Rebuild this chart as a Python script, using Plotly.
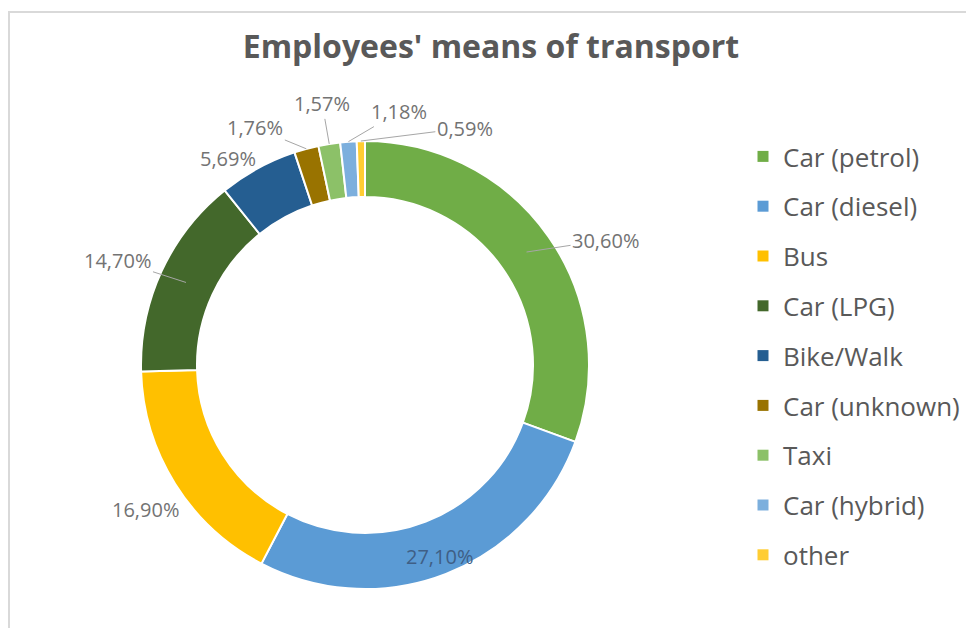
import math
import plotly.graph_objects as go

categories = ["Car (petrol)", "Car (diesel)", "Bus", "Car (LPG)", "Bike/Walk",
              "Car (unknown)", "Taxi", "Car (hybrid)", "other"]
shares = [30.60, 27.10, 16.90, 14.70, 5.69, 1.76, 1.57, 1.18, 0.59]
colors = ["#70AD47", "#5B9BD5", "#FFC000", "#43682B", "#255E91",
          "#997300", "#8CC168", "#7CAFDD", "#FFCD33"]

# label placement style: anchor radius (fraction of outer radius), text offset (px), leader line
label_r = [0.88, 0.915, 1.0, 0.88, 1.0, 1.0, 1.0, 1.0, 1.0]
label_dx = [79, 0, -30, -68, -30, -51, -7, 51, 104]
label_dy = [-12, 0, 26, -22, -10, -21, -40, -30, -13]
label_line = [True, False, False, True, False, True, True, True, True]

W, H = 974, 628
OFF = 8                      # page body margin of the html output (px)
cx, cy, R = 365, 365, 224    # donut centre / radius in screen px


def px_x(x):
    return (x - OFF) / W


def px_y(y):
    return 1 - (y - OFF) / H


fig = go.Figure()
fig.add_trace(go.Pie(
    labels=categories, values=shares, sort=False, direction="clockwise", rotation=0,
    hole=0.75,
    marker=dict(colors=colors, line=dict(color="white", width=2)),
    textinfo="none",
    showlegend=False,
    domain=dict(x=[px_x(cx - R), px_x(cx + R)], y=[px_y(cy + R), px_y(cy - R)]),
))

for name, col in zip(categories, colors):
    fig.add_trace(go.Scatter(
        x=[None], y=[None], mode="markers", name=name, legendgroup=name,
        marker=dict(symbol="square", size=11, color=col),
        showlegend=True,
    ))

total = sum(shares)
annotations = []
cum = 0.0
for i, v in enumerate(shares):
    mid = (cum + v / 2) / total * 2 * math.pi
    cum += v
    r = R * label_r[i]
    tx = cx + r * math.sin(mid)
    ty = cy - r * math.cos(mid)
    text = f"{v:.2f}%".replace(".", ",")
    if label_line[i]:
        annotations.append(dict(
            x=px_x(tx), y=px_y(ty), xref="paper", yref="paper",
            text=text, showarrow=True, arrowhead=0, arrowwidth=1,
            arrowcolor="#a6a6a6", ax=label_dx[i], ay=label_dy[i], standoff=0,
            xanchor="center", yanchor="middle",
            font=dict(family="Open Sans", size=20, color="#737373"),
        ))
    else:
        color = "#3f5f86" if label_r[i] < 1 else "#737373"
        annotations.append(dict(
            x=px_x(tx + label_dx[i]), y=px_y(ty + label_dy[i]),
            xref="paper", yref="paper", text=text, showarrow=False,
            xanchor="center", yanchor="middle",
            font=dict(family="Open Sans", size=20, color=color),
        ))

fig.update_layout(
    width=W, height=H,
    margin=dict(l=0, r=0, t=0, b=0),
    paper_bgcolor="white", plot_bgcolor="white",
    title=dict(text="<b>Employees' means of transport</b>", x=px_x(491), xanchor="center",
               y=px_y(47), yanchor="middle",
               font=dict(family="Open Sans", size=32, color="#595959")),
    legend=dict(x=px_x(743), y=px_y(133), xanchor="left", yanchor="top",
                font=dict(family="Open Sans", size=26, color="#595959"),
                tracegroupgap=13, bgcolor="rgba(0,0,0,0)"),
    xaxis=dict(visible=False), yaxis=dict(visible=False),
    annotations=annotations,
    shapes=[dict(type="rect", xref="paper", yref="paper",
                 x0=0.001, x1=1.05, y0=-0.05, y1=px_y(12),
                 line=dict(color="#d9d9d9", width=2), fillcolor="rgba(0,0,0,0)",
                 layer="below")],
)

fig.write_html("out.html")
